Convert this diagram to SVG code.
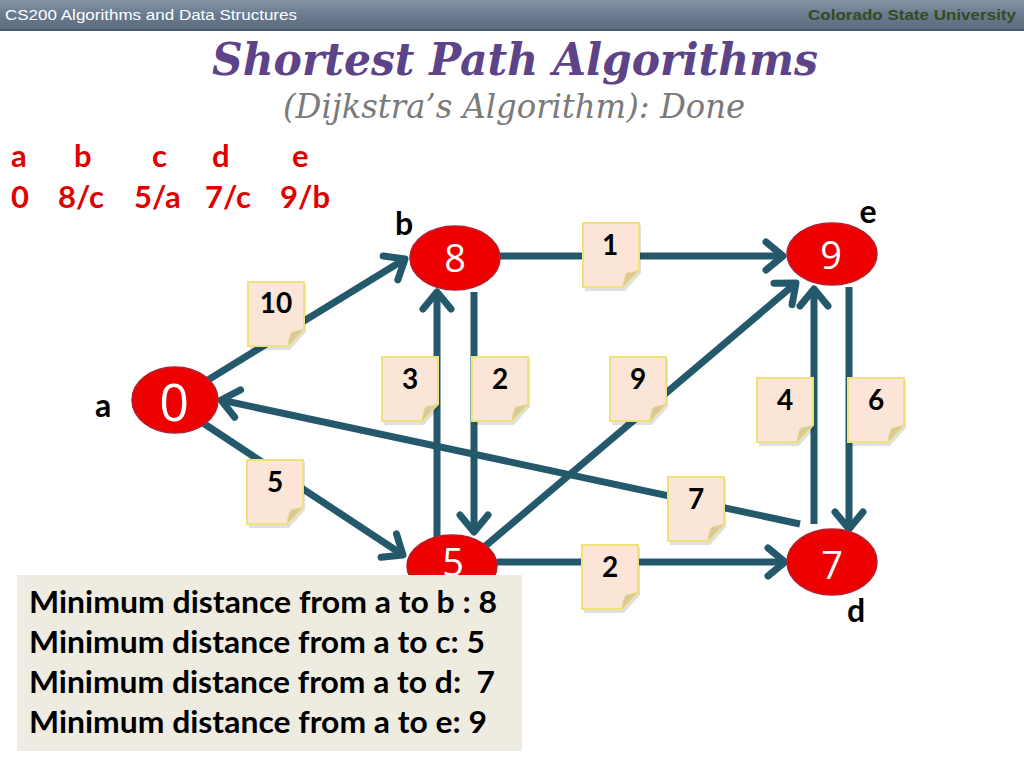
<svg xmlns="http://www.w3.org/2000/svg" xmlns:xlink="http://www.w3.org/1999/xlink" width="1024" height="768" viewBox="0 0 1024 768">
<style>
.edge{fill:none;stroke:#24596b;stroke-width:7;marker-end:url(#arr)}
.nodeShape{fill:#ee0000;stroke:#b3202e;stroke-width:1.5}
.nodeNum{font-family:"Open Sans","Liberation Sans",sans-serif;fill:#ffffff;text-anchor:middle}
.nodeLbl{font-family:Lato,"Liberation Sans",sans-serif;font-weight:bold;font-size:32px;fill:#000;text-anchor:middle}
.wt{font-family:Lato,"Liberation Sans",sans-serif;font-weight:bold;font-size:28px;fill:#000;text-anchor:middle}
.tbl{font-family:Lato,"Liberation Sans",sans-serif;font-weight:bold;font-size:31px;fill:#e00000}
.sum{font-family:Lato,"Liberation Sans",sans-serif;font-weight:bold;font-size:30px;fill:#000}
</style>
<defs>
<linearGradient id="hdr" x1="0" y1="0" x2="0" y2="1">
<stop offset="0" stop-color="#8494a6"/>
<stop offset="0.5" stop-color="#6a7b8f"/>
<stop offset="1" stop-color="#5b6b7e"/>
</linearGradient>
<marker id="arr" markerUnits="userSpaceOnUse" markerWidth="44" markerHeight="44" viewBox="-30 -22 44 44" refX="0" refY="0" orient="auto">
<path d="M-17,-14 L0,0 L-17,14" fill="none" stroke="#24596b" stroke-width="7" stroke-linecap="round" stroke-linejoin="round"/>
</marker>
<g id="note">
<path d="M2,2 H58 V50 L42,68 H2 Z" fill="#000" opacity="0.12"/>
<path d="M0,0 H56 V47 L40,64 H0 Z" fill="#fbe5d6" stroke="#f0e27a" stroke-width="2"/>
<path d="M56,47 L40,64 C41,57 42,52 44,50 C47,49 51,49 56,47 Z" fill="#d8c99a" stroke="#e9dc86" stroke-width="1"/>
</g>
</defs>

<rect x="0" y="0" width="1024" height="30" fill="url(#hdr)"/>
<rect x="0" y="29" width="1024" height="2" fill="#4a5a6c"/>
<text x="5" y="20" font-family="'Liberation Sans',Arial,sans-serif" font-size="15" fill="#ffffff" textLength="292" lengthAdjust="spacingAndGlyphs">CS200 Algorithms and Data Structures</text>
<text x="1016" y="20" font-family="'Liberation Sans',Arial,sans-serif" font-size="15" font-weight="bold" fill="#354a22" text-anchor="end" textLength="208" lengthAdjust="spacingAndGlyphs">Colorado State University</text>

<text x="212" y="75" font-family="'DejaVu Serif','Liberation Serif',serif" font-style="italic" font-weight="bold" font-size="44" fill="#5d4488" textLength="606" lengthAdjust="spacingAndGlyphs">Shortest Path Algorithms</text>
<text x="283" y="118" font-family="'DejaVu Serif','Liberation Serif',serif" font-style="italic" font-size="33" fill="#7a7a7a" textLength="462" lengthAdjust="spacingAndGlyphs">(Dijkstra’s Algorithm): Done</text>

<g id="table">
<text class="tbl" x="11" y="167">a</text>
<text class="tbl" x="74" y="167">b</text>
<text class="tbl" x="152" y="167">c</text>
<text class="tbl" x="212" y="167">d</text>
<text class="tbl" x="292" y="167">e</text>
<text class="tbl" x="11" y="208">0</text>
<text class="tbl" x="58" y="208">8/c</text>
<text class="tbl" x="134" y="208">5/a</text>
<text class="tbl" x="205" y="208">7/c</text>
<text class="tbl" x="280" y="208">9/b</text>
</g>

<g id="connectors">
<line class="edge" x1="203" y1="383" x2="405" y2="259"/>
<line class="edge" x1="203" y1="423" x2="403" y2="555"/>
<line class="edge" x1="500" y1="256" x2="783" y2="256"/>
<line class="edge" x1="497" y1="562" x2="785" y2="562"/>
<line class="edge" x1="437" y1="548" x2="437" y2="292"/>
<line class="edge" x1="474" y1="292" x2="474" y2="532"/>
<line class="edge" x1="483" y1="548" x2="796" y2="283"/>
<line class="edge" x1="814" y1="524" x2="814" y2="289"/>
<line class="edge" x1="849" y1="287" x2="849" y2="529"/>
<line class="edge" x1="800" y1="524" x2="221" y2="400"/>
<use xlink:href="#note" x="248" y="282"/><text class="wt" x="276" y="313">10</text>
<use xlink:href="#note" x="583" y="223"/><text class="wt" x="610" y="255">1</text>
<use xlink:href="#note" x="382" y="357"/><text class="wt" x="410" y="389">3</text>
<use xlink:href="#note" x="472" y="357"/><text class="wt" x="500" y="389">2</text>
<use xlink:href="#note" x="610" y="357"/><text class="wt" x="638" y="389">9</text>
<use xlink:href="#note" x="757" y="378"/><text class="wt" x="785" y="410">4</text>
<use xlink:href="#note" x="848" y="378"/><text class="wt" x="876" y="410">6</text>
<use xlink:href="#note" x="247" y="460"/><text class="wt" x="275" y="492">5</text>
<use xlink:href="#note" x="668" y="477"/><text class="wt" x="696" y="509">7</text>
<use xlink:href="#note" x="582" y="545"/><text class="wt" x="610" y="577">2</text>
</g>

<g id="node-a">
<ellipse class="nodeShape" cx="175" cy="400" rx="43" ry="33"/>
<text class="nodeNum" x="174" y="421" font-size="52">0</text>
<text class="nodeLbl" x="103" y="417">a</text>
</g>
<g id="node-b">
<ellipse class="nodeShape" cx="455" cy="258" rx="45" ry="32"/>
<text class="nodeNum" x="455" y="272" font-size="38">8</text>
<text class="nodeLbl" x="404" y="235">b</text>
</g>
<g id="node-c">
<ellipse class="nodeShape" cx="452" cy="566" rx="45" ry="31"/>
<text class="nodeNum" x="453" y="576" font-size="38">5</text>
</g>
<g id="node-d">
<ellipse class="nodeShape" cx="832" cy="562" rx="45" ry="33"/>
<text class="nodeNum" x="832" y="579" font-size="38">7</text>
<text class="nodeLbl" x="856" y="622">d</text>
</g>
<g id="node-e">
<ellipse class="nodeShape" cx="832" cy="254" rx="45" ry="31"/>
<text class="nodeNum" x="831" y="269" font-size="38">9</text>
<text class="nodeLbl" x="868" y="223">e</text>
</g>

<g id="summary">
<rect x="17" y="575" width="505" height="176" fill="#eeece1"/>
<text class="sum" x="29" y="613" textLength="468" lengthAdjust="spacingAndGlyphs">Minimum distance from a to b : 8</text>
<text class="sum" x="29" y="653" textLength="456" lengthAdjust="spacingAndGlyphs">Minimum distance from a to c: 5</text>
<text class="sum" x="29" y="693" textLength="466" lengthAdjust="spacingAndGlyphs" xml:space="preserve">Minimum distance from a to d:  7</text>
<text class="sum" x="29" y="733" textLength="458" lengthAdjust="spacingAndGlyphs">Minimum distance from a to e: 9</text>
</g>
</svg>
